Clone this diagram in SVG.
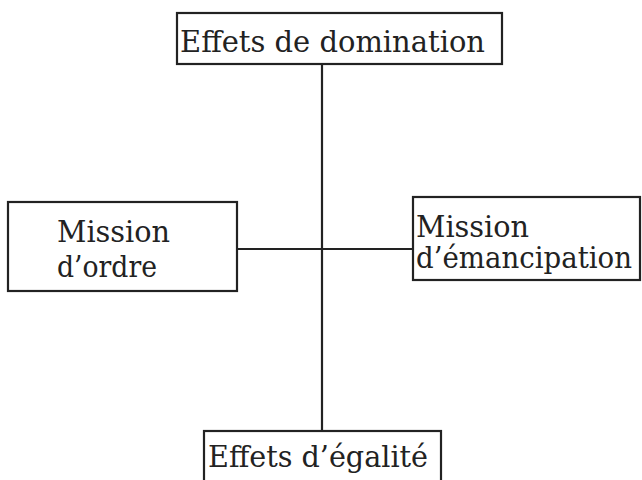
<svg xmlns="http://www.w3.org/2000/svg" width="642" height="480" viewBox="0 0 642 480">
<style>
.box{fill:#fff;stroke:#222;stroke-width:2.2}
.t{font-family:"DejaVu Serif","Liberation Serif",serif;font-size:29px;fill:#222}
.ln{stroke:#222;stroke-width:2.2;fill:none}
</style>
<rect width="642" height="480" fill="#fff"/>
<g id="connectors">
<line class="ln" x1="322" y1="64" x2="322" y2="431"/>
<line class="ln" x1="237" y1="249" x2="413" y2="249"/>
</g>
<g id="top">
<rect class="box" x="177" y="13" width="325" height="51"/>
<text class="t" x="180" y="52" textLength="305" lengthAdjust="spacingAndGlyphs">Effets de domination</text>
</g>
<g id="left">
<rect class="box" x="8" y="202" width="229" height="89"/>
<text class="t" x="57" y="242" textLength="113" lengthAdjust="spacingAndGlyphs">Mission</text>
<text class="t" x="57" y="277" textLength="100" lengthAdjust="spacingAndGlyphs">d’ordre</text>
</g>
<g id="right">
<rect class="box" x="413" y="197" width="227" height="83"/>
<text class="t" x="416" y="237" textLength="113" lengthAdjust="spacingAndGlyphs">Mission</text>
<text class="t" x="416" y="268" textLength="216" lengthAdjust="spacingAndGlyphs">d’émancipation</text>
</g>
<g id="bottom">
<rect class="box" x="204" y="431" width="237" height="60"/>
<text class="t" x="208" y="467" textLength="220" lengthAdjust="spacingAndGlyphs">Effets d’égalité</text>
</g>
</svg>
